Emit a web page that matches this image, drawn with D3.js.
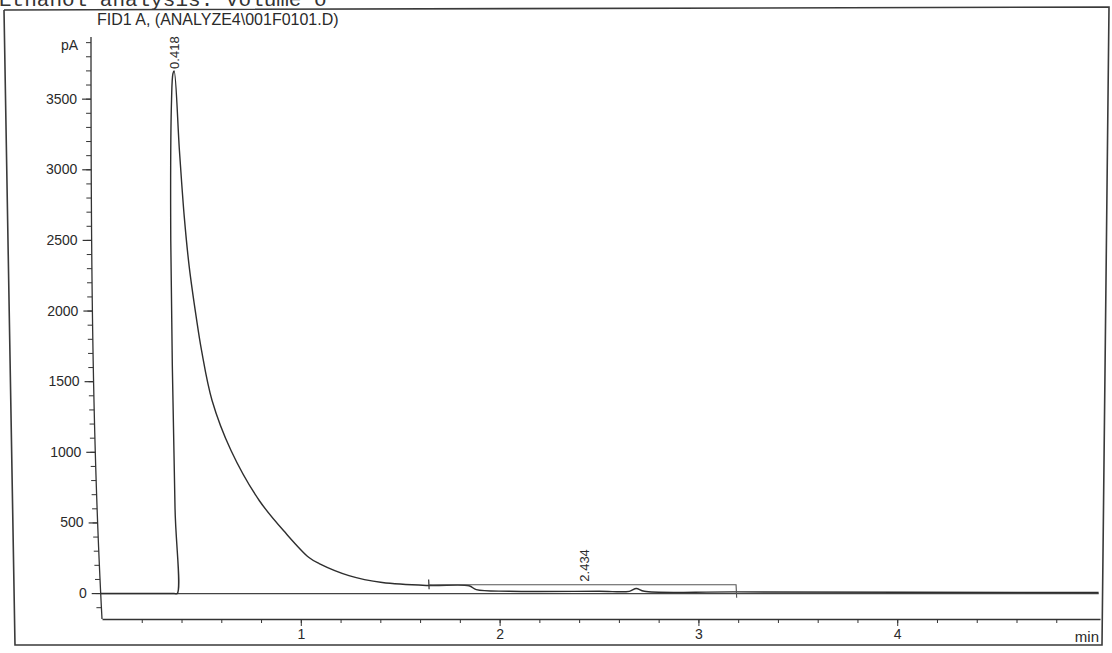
<!DOCTYPE html>
<html>
<head>
<meta charset="utf-8">
<script src="https://cdn.jsdelivr.net/npm/d3@7"></script>
<style>
  body { margin: 0; background: #fff; }
  svg { display: block; font-family: "Liberation Sans", Arial, sans-serif; }
  .tick text { fill: #2a2a2a; font-size: 14px; }
  .tick line, .domain { stroke: #333; }
</style>
</head>
<body>
<div id="chart"></div>
<script>
// FID1 A signal: retention time (min) and detector signal (pA)
const timeMin = [0, 0.370, 0.385, 0.392, 0.398, 0.405, 0.412, 0.418, 0.444, 0.467, 0.490, 0.522, 0.546, 0.594,
  0.683, 0.817, 0.946, 1.056, 1.106, 1.253, 1.419, 1.653, 1.855, 1.890, 2.056, 2.509, 2.660, 2.695,
  2.735, 3.198, 5.02];
const signalPA = [0, 0, 0, 600, 2500, 3500, 3680, 3700, 3137, 2663, 2309, 1955, 1721, 1367,
  1013, 659, 425, 255, 212, 127, 78, 57, 55, 28, 16, 16, 16, 36,
  16, 12, 8];

// integrated peaks
const peakTimes = [0.418, 2.434];
const peakTops = [3700, 70];
const peakLabels = ["0.418", "2.434"];

// baseline drawn under the small peak
const intStart = [1.653, 62];
const intEnd = [3.198, 62];

const yMajor = [0, 500, 1000, 1500, 2000, 2500, 3000, 3500];
const yMinor = d3.range(-100, 3901, 100);
const xMajor = [1, 2, 3, 4];
const xMinor = d3.range(0.2, 4.81, 0.2);

const width = 1112;
const height = 653;

const svg = d3.select("#chart").append("svg")
  .attr("width", width)
  .attr("height", height);

let x = d3.scaleLinear().domain([0, 5.02]).range([102, 1100]);
let y = d3.scaleLinear().domain([-180, 3940]).range([619, 37]);

// the scanned page is bent: upper part sits further left than the bottom
let warp = d3.scalePow().exponent(3)
  .domain([37, 619])
  .range([-11, 0])
  .clamp(true);

// typed header, mostly cut off by the scan
svg.append("text")
  .attr("x", -1)
  .attr("y", 6)
  .style("font-family", "'Liberation Mono', 'DejaVu Sans Mono', monospace")
  .style("font-size", "21px")
  .attr("fill", "#333")
  .text("Ethanol analysis: Volume o");

// page frame
svg.append("path")
  .attr("d", d3.line()([[4, 10], [1109, 7], [1102, 645], [15, 645], [4, 10]]))
  .attr("fill", "none")
  .attr("stroke", "#3a3a3a")
  .attr("stroke-width", 1.6);

svg.append("text")
  .attr("x", 97)
  .attr("y", 25)
  .style("font-size", "16px")
  .attr("fill", "#2a2a2a")
  .text("FID1 A, (ANALYZE4\\001F0101.D)");

// y axis
function warpTicks(g) {
  g.selectAll(".tick").attr("transform", d => "translate(" + warp(y(d)) + "," + y(d) + ")");
  g.select(".domain").remove();
}

let yAxis = svg.append("g")
  .attr("transform", "translate(" + x(0) + ",0)")
  .call(d3.axisLeft(y).tickValues(yMajor).tickSize(9).tickPadding(5).tickFormat(d3.format("d")))
  .call(warpTicks);

svg.append("g")
  .attr("transform", "translate(" + x(0) + ",0)")
  .call(d3.axisLeft(y).tickValues(yMinor).tickSize(5).tickFormat(""))
  .call(warpTicks);

svg.append("path")
  .attr("d", d3.line()(d3.range(37, 620, 6).map(py => [x(0) + warp(py), py])))
  .attr("fill", "none")
  .attr("stroke", "#333")
  .attr("stroke-width", 1.3);

yAxis.selectAll(".tick line").attr("stroke-width", 1.2);

svg.append("text")
  .attr("x", 78)
  .attr("y", 50)
  .attr("text-anchor", "end")
  .style("font-size", "14px")
  .attr("fill", "#2a2a2a")
  .text("pA");

// x axis
let xAxis = svg.append("g")
  .attr("transform", "translate(0," + y.range()[0] + ")")
  .call(d3.axisBottom(x).tickValues(xMajor).tickSize(7).tickPadding(3).tickSizeOuter(0)
    .tickFormat(d3.format("d")));
xAxis.select(".domain").attr("stroke-width", 1.4);

svg.append("g")
  .attr("transform", "translate(0," + y.range()[0] + ")")
  .call(d3.axisBottom(x).tickValues(xMinor).tickSize(4).tickFormat(""))
  .call(g => g.select(".domain").remove());

svg.append("text")
  .attr("x", 1099)
  .attr("y", 642)
  .attr("text-anchor", "end")
  .style("font-size", "15px")
  .attr("fill", "#2a2a2a")
  .text("min");

// chart marks go through the warp as well
let px = (t, v) => x(t) + warp(y(v));

// zero line across the run
svg.append("path")
  .attr("d", d3.line()([[px(0, 0), y(0)], [px(x.domain()[1], 0), y(0)]]))
  .attr("stroke", "#444")
  .attr("stroke-width", 1.2);

// signal
let points = timeMin.map((t, i) => ({ t: t, v: signalPA[i] }));
let line = d3.line()
  .x(d => px(d.t, d.v))
  .y(d => y(d.v))
  .curve(d3.curveCatmullRom.alpha(0.5));

svg.append("path")
  .datum(points)
  .attr("d", line)
  .attr("fill", "none")
  .attr("stroke", "#2e2e2e")
  .attr("stroke-width", 1.4);

// integration baseline of the 2.434 peak with its end marks
svg.append("path")
  .attr("d", d3.line()([
    [px(intStart[0], 100), y(100)],
    [px(intStart[0], 30), y(30)]
  ]))
  .attr("stroke", "#333")
  .attr("stroke-width", 1.2);

svg.append("path")
  .attr("d", d3.line()([
    [px(intStart[0], intStart[1]), y(intStart[1])],
    [px(intEnd[0], intEnd[1]), y(intEnd[1])],
    [px(intEnd[0], -30), y(-30)]
  ]))
  .attr("fill", "none")
  .attr("stroke", "#555")
  .attr("stroke-width", 1.1);

// peak retention time labels, rotated
svg.selectAll(".peak-label")
  .data(peakTimes)
  .enter().append("text")
  .attr("class", "peak-label")
  .attr("transform", (d, i) => {
    let ly = y(peakTops[i]) - 2;
    return "translate(" + px(d, peakTops[i]) + "," + ly + ") rotate(-90)";
  })
  .attr("dy", "0.35em")
  .style("font-size", "13px")
  .attr("fill", "#2a2a2a")
  .text((d, i) => peakLabels[i]);
</script>
</body>
</html>
